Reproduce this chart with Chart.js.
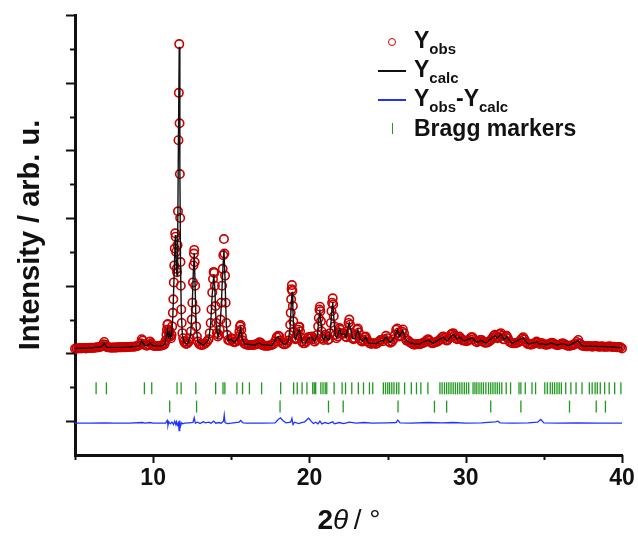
<!DOCTYPE html>
<html lang="en">
<head>
  <meta charset="UTF-8" />
  <title>Rietveld refinement</title>
  <script src="https://cdn.jsdelivr.net/npm/chart.js"></script>
  <style>
    body {
      margin: 0;
      padding: 0;
      background: #fff;
      font-family: Arial, "Liberation Sans", sans-serif;
      color: #111;
    }

    .contenedor {
      position: relative;
      width: 638px;
      height: 541px;
    }

    .leyenda .fila {
      position: absolute;
      left: 374px;
      height: 28px;
      display: flex;
      align-items: center;
    }

    .leyenda .simbolo {
      width: 36px;
      display: flex;
      justify-content: center;
      align-items: center;
    }

    .leyenda .texto {
      margin-left: 4px;
      font-weight: 700;
      font-size: 23px;
      white-space: nowrap;
    }

    .leyenda sub {
      font-size: 15px;
      vertical-align: -6px;
    }

    .circulo {
      width: 6px;
      height: 6px;
      border: 1.4px solid #c80000;
      border-radius: 50%;
    }

    .linea-negra { width: 28px; border-top: 2px solid #111; }
    .linea-azul { width: 28px; border-top: 2px solid #1f35ff; }
    .marca-verde { height: 11px; border-left: 1.5px solid #1f9a1f; }

    .titulo-x {
      position: absolute;
      left: 0;
      width: 698px;
      top: 504px;
      text-align: center;
      font-size: 28px;
    }
  </style>
</head>
<body>
  <div class="contenedor">
    <canvas id="grafico" width="638" height="541"></canvas>

    <div class="leyenda">
      <div class="fila" style="top:28px"><span class="simbolo"><span class="circulo"></span></span><span class="texto">Y<sub>obs</sub></span></div>
      <div class="fila" style="top:57px"><span class="simbolo"><span class="linea-negra"></span></span><span class="texto">Y<sub>calc</sub></span></div>
      <div class="fila" style="top:86px"><span class="simbolo"><span class="linea-azul"></span></span><span class="texto">Y<sub>obs</sub>-Y<sub>calc</sub></span></div>
      <div class="fila" style="top:114px"><span class="simbolo"><span class="marca-verde"></span></span><span class="texto">Bragg markers</span></div>
    </div>

    <div class="titulo-x"><b>2</b><i>θ</i>&thinsp;/ °</div>
  </div>

  <script>
    // observed profile [2theta, intensity]
    const yObs = [
      [5.0,2.14],[5.1,2.15],[5.2,2.15],[5.3,2.16],[5.4,2.15],[5.5,2.16],[5.6,2.16],[5.7,2.15],[5.8,2.16],[5.9,2.16],
      [6.0,2.17],[6.1,2.16],[6.2,2.17],[6.3,2.17],[6.4,2.18],[6.5,2.18],[6.6,2.19],[6.7,2.21],[6.8,2.27],[6.87,2.34],
      [6.95,2.26],[7.0,2.2],[7.1,2.18],[7.2,2.18],[7.3,2.17],[7.4,2.17],[7.5,2.18],[7.6,2.17],[7.7,2.18],[7.8,2.18],
      [7.9,2.18],[8.0,2.18],[8.1,2.19],[8.2,2.18],[8.3,2.19],[8.4,2.19],[8.5,2.19],[8.6,2.2],[8.7,2.2],[8.8,2.2],
      [8.9,2.21],[9.0,2.22],[9.1,2.24],[9.2,2.3],[9.27,2.42],[9.33,2.38],[9.4,2.28],[9.5,2.24],[9.6,2.23],[9.7,2.26],
      [9.8,2.35],[9.87,2.3],[9.95,2.25],[10.0,2.23],[10.1,2.22],[10.2,2.22],[10.3,2.22],[10.4,2.23],[10.5,2.23],[10.6,2.24],
      [10.7,2.26],[10.75,2.3],[10.8,2.38],[10.85,2.55],[10.88,2.7],[10.91,2.85],[10.94,2.87],[10.97,2.7],[11.0,2.5],[11.03,2.62],
      [11.06,2.66],[11.1,2.5],[11.14,2.45],[11.18,2.55],[11.22,2.8],[11.26,3.2],[11.29,3.6],[11.32,4.1],[11.35,4.6],[11.38,5.1],
      [11.41,5.55],[11.44,5.45],[11.47,5.0],[11.5,4.5],[11.53,4.4],[11.56,5.2],[11.59,6.2],[11.62,8.3],[11.645,9.7],[11.67,11.14],
      [11.69,8.8],[11.71,7.3],[11.73,6.0],[11.75,4.7],[11.77,4.0],[11.8,3.3],[11.83,2.9],[11.87,2.6],[11.92,2.45],[11.98,2.35],
      [12.05,2.3],[12.12,2.28],[12.2,2.3],[12.28,2.35],[12.35,2.45],[12.42,2.65],[12.47,3.0],[12.51,3.5],[12.55,4.1],[12.58,4.6],
      [12.61,4.95],[12.63,5.06],[12.66,4.7],[12.69,4.0],[12.72,3.3],[12.75,2.8],[12.8,2.5],[12.86,2.35],[12.95,2.28],[13.05,2.25],
      [13.15,2.25],[13.25,2.27],[13.35,2.3],[13.45,2.35],[13.55,2.42],[13.62,2.6],[13.68,2.9],[13.73,3.3],[13.78,3.8],[13.83,4.2],
      [13.87,4.41],[13.91,4.38],[13.95,4.0],[13.99,3.4],[14.03,2.9],[14.08,2.6],[14.14,2.5],[14.2,2.55],[14.26,2.7],[14.31,3.0],
      [14.36,3.5],[14.41,4.0],[14.45,4.5],[14.49,4.9],[14.53,5.38],[14.56,4.95],[14.6,4.3],[14.64,3.5],[14.68,2.9],[14.73,2.55],
      [14.8,2.4],[14.9,2.38],[15.0,2.45],[15.05,2.42],[15.12,2.35],[15.2,2.33],[15.3,2.35],[15.4,2.4],[15.47,2.5],[15.52,2.65],
      [15.56,2.8],[15.6,2.84],[15.64,2.7],[15.68,2.5],[15.74,2.38],[15.82,2.3],[15.9,2.27],[16.0,2.26],[16.1,2.25],[16.2,2.25],
      [16.3,2.25],[16.4,2.25],[16.5,2.26],[16.6,2.27],[16.7,2.29],[16.8,2.33],[16.87,2.32],[16.95,2.27],[17.0,2.24],[17.1,2.23],
      [17.2,2.23],[17.3,2.23],[17.4,2.23],[17.5,2.24],[17.6,2.25],[17.7,2.28],[17.8,2.36],[17.9,2.48],[18.0,2.52],[18.08,2.5],
      [18.15,2.38],[18.25,2.3],[18.35,2.27],[18.45,2.27],[18.55,2.3],[18.65,2.38],[18.72,2.55],[18.77,2.85],[18.8,3.2],[18.83,3.6],
      [18.86,3.9],[18.88,4.02],[18.91,3.85],[18.94,3.4],[18.97,2.95],[19.0,2.65],[19.05,2.45],[19.1,2.42],[19.17,2.45],[19.23,2.55],
      [19.28,2.7],[19.32,2.78],[19.36,2.79],[19.4,2.65],[19.45,2.48],[19.52,2.35],[19.6,2.3],[19.7,2.3],[19.8,2.35],[19.88,2.45],
      [19.95,2.49],[20.02,2.45],[20.1,2.48],[20.17,2.5],[20.25,2.42],[20.33,2.35],[20.42,2.4],[20.5,2.55],[20.56,2.8],[20.6,3.05],
      [20.64,3.3],[20.67,3.38],[20.7,3.25],[20.74,2.95],[20.78,2.65],[20.84,2.45],[20.9,2.4],[20.97,2.48],[21.03,2.55],[21.1,2.5],
      [21.18,2.4],[21.25,2.42],[21.32,2.6],[21.37,2.9],[21.41,3.25],[21.45,3.5],[21.49,3.63],[21.52,3.45],[21.56,3.1],[21.6,2.8],
      [21.66,2.55],[21.73,2.45],[21.8,2.5],[21.87,2.62],[21.93,2.75],[21.98,2.7],[22.04,2.58],[22.1,2.6],[22.17,2.58],[22.23,2.6],
      [22.3,2.5],[22.37,2.48],[22.44,2.65],[22.5,2.9],[22.55,3.0],[22.6,2.85],[22.66,2.6],[22.74,2.45],[22.82,2.42],[22.9,2.45],
      [22.98,2.55],[23.05,2.7],[23.1,2.74],[23.16,2.62],[23.23,2.45],[23.3,2.38],[23.38,2.35],[23.46,2.4],[23.54,2.48],[23.6,2.5],
      [23.67,2.42],[23.75,2.35],[23.85,2.3],[23.95,2.28],[24.05,2.3],[24.15,2.3],[24.25,2.28],[24.35,2.3],[24.45,2.35],[24.55,2.4],
      [24.62,2.4],[24.7,2.36],[24.8,2.42],[24.9,2.52],[24.98,2.45],[25.08,2.35],[25.18,2.32],[25.28,2.35],[25.38,2.42],[25.47,2.55],
      [25.55,2.7],[25.62,2.74],[25.69,2.62],[25.76,2.5],[25.84,2.52],[25.92,2.65],[25.98,2.71],[26.05,2.6],[26.13,2.45],[26.22,2.38],
      [26.32,2.38],[26.42,2.33],[26.52,2.3],[26.62,2.27],[26.72,2.26],[26.82,2.27],[26.92,2.28],[27.02,2.27],[27.12,2.28],[27.22,2.3],
      [27.32,2.32],[27.42,2.35],[27.52,2.4],[27.6,2.42],[27.68,2.38],[27.78,2.32],[27.88,2.3],[27.98,2.32],[28.08,2.33],[28.18,2.35],
      [28.28,2.38],[28.38,2.42],[28.48,2.48],[28.56,2.5],[28.64,2.45],[28.72,2.4],[28.8,2.38],[28.88,2.42],[28.96,2.48],[29.04,2.55],
      [29.12,2.58],[29.2,2.6],[29.28,2.52],[29.36,2.45],[29.44,2.42],[29.52,2.45],[29.6,2.5],[29.68,2.45],[29.76,2.4],[29.85,2.38],
      [29.95,2.38],[30.05,2.36],[30.15,2.38],[30.25,2.42],[30.35,2.48],[30.43,2.48],[30.52,2.42],[30.62,2.36],[30.72,2.33],[30.82,2.36],
      [30.92,2.4],[31.02,2.4],[31.12,2.35],[31.22,2.32],[31.32,2.32],[31.42,2.33],[31.52,2.36],[31.62,2.4],[31.72,2.46],[31.8,2.52],
      [31.87,2.55],[31.94,2.5],[32.02,2.45],[32.1,2.48],[32.18,2.57],[32.25,2.6],[32.32,2.52],[32.4,2.42],[32.48,2.42],[32.56,2.5],
      [32.62,2.52],[32.7,2.45],[32.8,2.35],[32.9,2.32],[33.0,2.3],[33.1,2.3],[33.2,2.31],[33.3,2.32],[33.4,2.34],[33.5,2.38],
      [33.6,2.44],[33.68,2.48],[33.76,2.42],[33.86,2.33],[33.96,2.28],[34.06,2.27],[34.16,2.26],[34.26,2.27],[34.36,2.29],[34.46,2.32],
      [34.54,2.35],[34.62,2.32],[34.72,2.28],[34.82,2.3],[34.9,2.3],[35.0,2.27],[35.1,2.26],[35.2,2.26],[35.3,2.27],[35.4,2.29],
      [35.5,2.32],[35.6,2.3],[35.7,2.27],[35.8,2.25],[35.9,2.25],[36.0,2.26],[36.1,2.28],[36.2,2.3],[36.3,2.28],[36.4,2.25],
      [36.5,2.23],[36.6,2.23],[36.7,2.23],[36.8,2.24],[36.9,2.25],[37.0,2.28],[37.1,2.34],[37.2,2.4],[37.3,2.3],[37.4,2.24],
      [37.5,2.22],[37.6,2.22],[37.7,2.21],[37.8,2.21],[37.9,2.22],[38.0,2.21],[38.1,2.2],[38.2,2.21],[38.3,2.22],[38.4,2.21],
      [38.5,2.2],[38.6,2.2],[38.7,2.21],[38.8,2.2],[38.9,2.2],[39.0,2.2],[39.1,2.2],[39.2,2.21],[39.3,2.2],[39.4,2.19],
      [39.5,2.2],[39.6,2.19],[39.7,2.18],[39.8,2.19],[39.9,2.18],[40.0,2.15]
    ];

    // calculated profile
    const yCalc = [
      [5.0,2.15],[6.0,2.16],[6.7,2.2],[6.8,2.25],[6.87,2.32],[6.95,2.24],[7.05,2.18],[8.0,2.18],[9.0,2.21],[9.15,2.25],
      [9.27,2.38],[9.36,2.3],[9.5,2.23],[9.7,2.25],[9.8,2.32],[9.9,2.26],[10.05,2.22],[10.6,2.23],[10.75,2.28],[10.85,2.5],
      [10.92,2.69],[10.98,2.5],[11.06,2.62],[11.12,2.45],[11.18,2.52],[11.26,3.1],[11.32,4.0],[11.38,4.9],[11.42,5.5],[11.46,5.0],
      [11.5,4.4],[11.53,4.3],[11.57,5.4],[11.62,8.4],[11.67,11.06],[11.71,7.5],[11.75,4.7],[11.8,3.2],[11.87,2.55],[11.98,2.33],
      [12.2,2.28],[12.4,2.55],[12.5,3.4],[12.57,4.4],[12.63,4.96],[12.69,3.9],[12.75,2.8],[12.86,2.35],[13.2,2.25],[13.55,2.4],
      [13.68,2.85],[13.78,3.75],[13.88,4.32],[13.95,3.9],[14.03,2.85],[14.14,2.48],[14.26,2.65],[14.36,3.4],[14.45,4.4],[14.53,5.06],
      [14.6,4.2],[14.68,2.85],[14.8,2.38],[15.0,2.42],[15.2,2.32],[15.47,2.48],[15.6,2.75],[15.68,2.48],[15.85,2.28],[16.5,2.25],
      [16.8,2.31],[16.95,2.26],[17.6,2.24],[17.9,2.46],[18.0,2.5],[18.15,2.37],[18.4,2.26],[18.65,2.36],[18.77,2.8],[18.84,3.5],
      [18.89,3.82],[18.94,3.35],[19.0,2.62],[19.1,2.42],[19.25,2.6],[19.34,2.72],[19.42,2.55],[19.55,2.32],[19.75,2.3],[19.93,2.46],
      [20.02,2.44],[20.15,2.48],[20.33,2.34],[20.5,2.52],[20.6,3.0],[20.67,3.23],[20.74,2.9],[20.84,2.44],[20.92,2.4],[21.03,2.53],
      [21.15,2.42],[21.27,2.42],[21.37,2.85],[21.45,3.4],[21.49,3.53],[21.56,3.05],[21.66,2.52],[21.75,2.46],[21.93,2.72],[22.04,2.56],
      [22.1,2.58],[22.17,2.56],[22.23,2.58],[22.35,2.46],[22.5,2.85],[22.55,2.9],[22.62,2.75],[22.75,2.44],[22.9,2.44],[23.1,2.7],
      [23.25,2.42],[23.4,2.36],[23.6,2.48],[23.8,2.3],[24.3,2.29],[24.62,2.39],[24.72,2.36],[24.9,2.5],[25.15,2.32],[25.35,2.4],
      [25.62,2.7],[25.76,2.5],[25.98,2.68],[26.2,2.38],[26.5,2.3],[27.0,2.27],[27.6,2.4],[27.9,2.3],[28.56,2.48],[28.8,2.37],
      [29.2,2.57],[29.44,2.42],[29.6,2.48],[29.9,2.37],[30.4,2.46],[30.72,2.33],[30.97,2.39],[31.3,2.31],[31.87,2.53],[32.02,2.45],
      [32.25,2.57],[32.44,2.41],[32.62,2.5],[32.95,2.3],[33.68,2.46],[34.0,2.27],[34.54,2.34],[34.72,2.28],[34.86,2.29],[35.1,2.26],
      [35.5,2.31],[35.85,2.25],[36.2,2.29],[36.6,2.23],[37.2,2.38],[37.45,2.22],[38.3,2.21],[39.2,2.2],[40.0,2.17]
    ];

    // difference curve Yobs - Ycalc
    const yDiff = [
      [5.0,-0.06],[6.0,-0.06],[6.9,-0.05],[7.5,-0.06],[8.5,-0.06],[9.3,-0.04],[9.5,-0.06],[9.8,-0.04],[10.0,-0.06],[10.8,-0.06],
      [10.9,0.02],[10.95,-0.12],[11.0,-0.02],[11.1,-0.08],[11.2,-0.03],[11.3,-0.1],[11.38,0.0],[11.45,-0.1],[11.5,-0.02],[11.55,-0.12],
      [11.62,-0.05],[11.66,-0.28],[11.7,0.02],[11.75,-0.15],[11.82,-0.05],[11.9,-0.08],[12.0,-0.06],[12.3,-0.05],[12.55,-0.04],[12.63,0.1],
      [12.7,-0.06],[12.85,-0.03],[13.0,-0.07],[13.2,-0.02],[13.35,-0.05],[13.55,-0.03],[13.7,-0.06],[13.88,0.0],[14.0,-0.06],[14.2,-0.04],
      [14.35,-0.06],[14.5,0.0],[14.55,0.18],[14.6,-0.04],[14.75,-0.07],[15.0,-0.06],[15.5,-0.03],[15.6,0.02],[15.75,-0.05],[16.0,-0.06],
      [17.0,-0.06],[17.8,-0.05],[18.0,0.05],[18.15,0.1],[18.3,0.02],[18.5,-0.05],[18.8,-0.03],[18.88,0.08],[18.95,-0.1],[19.05,-0.03],
      [19.3,-0.07],[19.5,-0.04],[19.7,-0.02],[19.85,0.05],[19.95,0.09],[20.1,0.0],[20.25,-0.07],[20.4,-0.03],[20.55,-0.08],[20.67,0.0],
      [20.8,-0.08],[21.0,-0.04],[21.2,-0.07],[21.49,-0.02],[21.6,-0.08],[21.9,-0.04],[22.2,-0.07],[22.55,-0.03],[23.0,-0.06],[23.5,-0.04],
      [24.0,-0.06],[25.0,-0.05],[25.55,-0.04],[25.65,0.03],[25.8,-0.05],[26.5,-0.06],[27.6,-0.04],[28.5,-0.05],[29.2,-0.04],[30.0,-0.06],
      [31.0,-0.05],[31.9,-0.02],[32.05,0.0],[32.2,-0.05],[33.0,-0.06],[34.0,-0.05],[34.6,-0.03],[34.8,0.05],[35.0,-0.05],[36.0,-0.06],
      [37.2,-0.05],[38.5,-0.06],[40.0,-0.06]
    ];

    // Bragg reflection positions (2theta), two phases
    const braggFase1 = [
      6.35,7.01,9.44,9.91,11.53,11.79,12.73,14.0,14.47,14.59,15.36,15.72,16.16,16.94,18.16,18.99,19.22,19.53,19.84,20.21,
      20.31,20.4,20.73,20.87,21.01,21.11,21.58,22.09,22.31,22.71,23.13,23.46,23.84,24.05,24.73,24.87,25.01,25.13,25.27,25.41,
      25.58,25.72,26.09,26.52,26.85,27.13,27.58,28.35,28.49,28.64,28.78,28.92,29.06,29.2,29.34,29.48,29.62,29.76,29.91,30.05,
      30.19,30.47,30.59,30.71,30.85,30.99,31.13,31.29,31.46,31.6,31.74,31.88,32.02,32.16,32.31,32.59,32.87,33.41,33.53,33.81,
      34.24,34.47,35.06,35.22,35.41,35.55,35.69,35.84,35.98,36.12,36.4,36.73,37.06,37.44,37.91,38.09,38.28,38.42,38.61,38.89,
      39.18,39.53,39.93
    ];
    const braggFase2 = [11.06,12.78,18.12,21.22,22.16,25.67,28.0,28.78,31.6,33.53,36.64,38.35,38.94];
    const nivelFase1 = 0.97;
    const nivelFase2 = 0.43;

    const xTicks = [5, 10, 15, 20, 25, 30, 35, 40];
    const yTicks = [0, 1, 2, 3, 4, 5, 6, 7, 8, 9, 10, 11, 12];

    const aPuntos = arr => arr.map(p => ({ x: p[0], y: p[1] }));

    // tick marks pointing outwards, long for major / short for minor
    const marcasEjes = {
      id: 'marcasEjes',
      afterDraw(chart) {
        const { ctx, scales: { x, y } } = chart;
        ctx.save();
        ctx.strokeStyle = '#111';
        ctx.lineWidth = 2;
        ctx.beginPath();
        xTicks.forEach(v => {
          const px = Math.round(x.getPixelForValue(v)) + 0.5;
          const largo = v % 10 === 0 ? 8 : 5;
          ctx.moveTo(px, x.top);
          ctx.lineTo(px, x.top + largo);
        });
        yTicks.forEach(v => {
          const py = Math.round(y.getPixelForValue(v)) + 0.5;
          const largo = v % 2 === 0 ? 9 : 5;
          ctx.moveTo(y.right, py);
          ctx.lineTo(y.right - largo, py);
        });
        ctx.stroke();
        ctx.restore();
      }
    };

    const ctx = document.getElementById('grafico').getContext('2d');

    new Chart(ctx, {
      type: 'scatter',
      data: {
        datasets: [
          {
            label: 'Ycalc',
            data: aPuntos(yCalc),
            showLine: true,
            borderColor: '#111',
            borderWidth: 1.4,
            pointRadius: 0,
            order: 1
          },
          {
            label: 'Yobs',
            data: aPuntos(yObs),
            showLine: false,
            pointStyle: 'circle',
            pointRadius: 4.2,
            pointBorderWidth: 1.6,
            pointBorderColor: '#c80000',
            pointBackgroundColor: 'rgba(0,0,0,0)',
            clip: false,
            order: 2
          },
          {
            label: 'Yobs-Ycalc',
            data: aPuntos(yDiff),
            showLine: true,
            borderColor: '#1f35ff',
            borderWidth: 1.3,
            pointRadius: 0,
            order: 1
          },
          {
            label: 'Bragg 1',
            data: braggFase1.map(t => ({ x: t, y: nivelFase1 })),
            pointStyle: 'line',
            rotation: 90,
            pointRadius: 6,
            pointBorderWidth: 1.3,
            pointBorderColor: '#1f9a1f',
            order: 1
          },
          {
            label: 'Bragg 2',
            data: braggFase2.map(t => ({ x: t, y: nivelFase2 })),
            pointStyle: 'line',
            rotation: 90,
            pointRadius: 6,
            pointBorderWidth: 1.3,
            pointBorderColor: '#1f9a1f',
            order: 1
          }
        ]
      },
      options: {
        responsive: false,
        animation: false,
        layout: { padding: { top: 15, right: 16, left: 0, bottom: 0 } },
        plugins: {
          legend: { display: false },
          tooltip: { enabled: false }
        },
        scales: {
          x: {
            type: 'linear',
            min: 5,
            max: 40,
            afterFit(scale) {
              scale.height = 86;
              scale.paddingLeft = 0;
              scale.paddingRight = 0;
            },
            grid: { display: false, drawTicks: false },
            border: { display: true, color: '#111', width: 3 },
            ticks: {
              stepSize: 5,
              padding: 10,
              maxRotation: 0,
              color: '#111',
              font: { family: 'Arial, "Liberation Sans", sans-serif', size: 23, weight: 'bold' },
              callback: v => (v % 10 === 0 ? v : '')
            }
          },
          y: {
            type: 'linear',
            min: -1,
            max: 12,
            afterFit(scale) { scale.width = 75; },
            grid: { display: false, drawTicks: false },
            border: { display: true, color: '#111', width: 3 },
            ticks: { display: false },
            title: {
              display: true,
              text: 'Intensity / arb. u.',
              color: '#111',
              padding: { top: 14, bottom: 0 },
              font: { family: 'Arial, "Liberation Sans", sans-serif', size: 29, weight: 'bold' }
            }
          }
        }
      },
      plugins: [marcasEjes]
    });
  </script>
</body>
</html>
